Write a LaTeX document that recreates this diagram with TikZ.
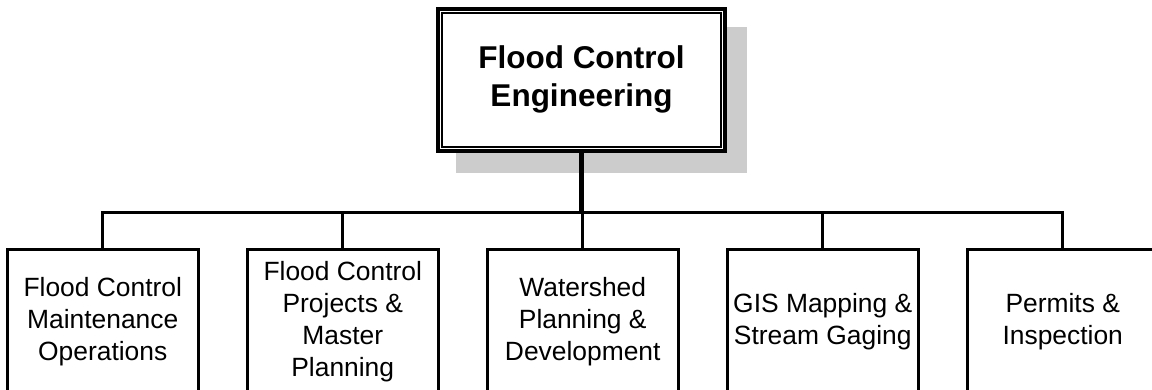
\documentclass[tikz,border=0pt]{standalone}
\usepackage{fontspec}
\setmainfont{Liberation Sans}
\usetikzlibrary{backgrounds}
\definecolor{shadowgray}{HTML}{CCCCCC}
\begin{document}
\begin{tikzpicture}[x=0.5pt,y=-0.5pt,
  headbox/.style={draw, line width=2pt, fill=white,
    minimum width=143.5pt, minimum height=71pt, inner sep=0pt,
    align=center, font=\fontsize{15.75}{18.5}\selectfont\bfseries},
  unitbox/.style={draw, line width=1.5pt, fill=white,
    minimum width=95.25pt, minimum height=72.3pt, inner sep=0pt,
    align=center, font=\fontsize{13.2}{16}\selectfont},
  link/.style={line width=1.5pt},
  trunk/.style={line width=2.25pt}]
  \useasboundingbox (0,0) rectangle (1152,390);

  % head of the organisation, framed twice, with a drop shadow
  \node[headbox] (head) at (581.5,80)
    {\raisebox{-1pt}{\begin{tabular}{@{}c@{}}Flood Control\\[0.2pt]Engineering\end{tabular}}};
  \draw[line width=1pt] ([xshift=3.2pt,yshift=3.2pt]head.south west)
    rectangle ([xshift=-3.2pt,yshift=-3.2pt]head.north east);
  \begin{scope}[on background layer]
    \fill[shadowgray] ([xshift=10pt,yshift=-10pt]head.south west)
      rectangle ([xshift=10pt,yshift=-10pt]head.north east);
  \end{scope}

  % the five sections
  \node[unitbox] (u1) at (102.75,322) {Flood Control\\Maintenance\\Operations};
  \node[unitbox] (u2) at (342.75,322) {Flood Control\\Projects \&\\Master\\Planning};
  \node[unitbox] (u3) at (582.75,322) {Watershed\\Planning \&\\Development};
  \node[unitbox] (u4) at (822.75,322) {GIS Mapping \&\\Stream Gaging};
  \node[unitbox] (u5) at (1062.75,322) {Permits \&\\Inspection};

  % bus line
  \coordinate (bus) at (582,212);
  \draw[trunk] (head.south) -- (head.south |- bus);
  \draw[link] (u1.north) -- (u1.north |- bus) -- (u5.north |- bus) -- (u5.north);
  \draw[link] (u2.north) -- (u2.north |- bus);
  \draw[link] (u3.north) -- (u3.north |- bus);
  \draw[link] (u4.north) -- (u4.north |- bus);
\end{tikzpicture}
\end{document}
